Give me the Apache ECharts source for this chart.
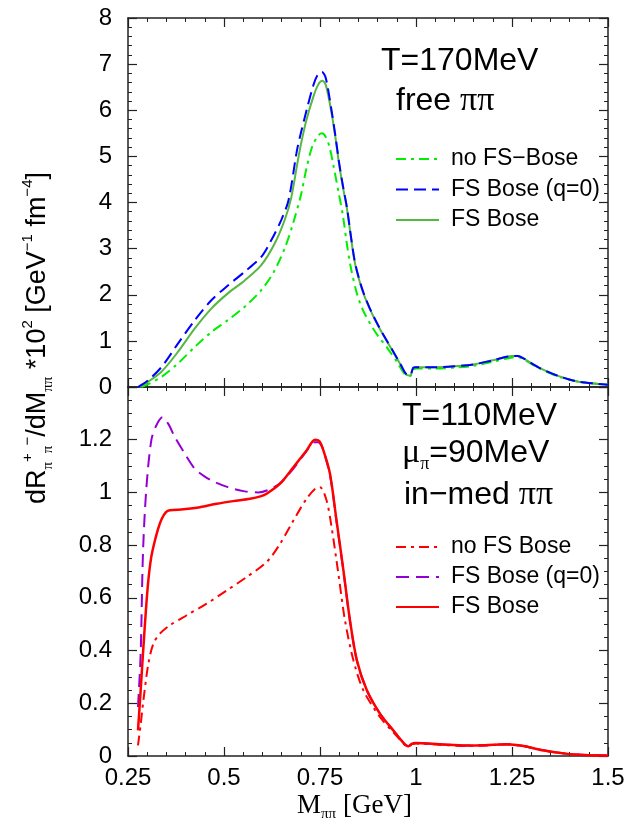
<!DOCTYPE html>
<html><head><meta charset="utf-8">
<script src="https://cdn.jsdelivr.net/npm/echarts@6/dist/echarts.min.js"></script>
<style>html,body{margin:0;padding:0;background:#fff}#c{width:642px;height:827px}</style>
</head><body><div id="c"></div>
<script>
// ---------- DATA ----------
// Top panel: T=170MeV, free pi-pi   [M (GeV), rate]
const freeNoFS = [[0.285,0],[0.30,0.05],[0.337,0.22],[0.38,0.51],[0.424,0.87],[0.467,1.19],[0.51,1.45],[0.554,1.74],[0.597,2.1],[0.63,2.5],[0.66,3.05],[0.68,3.55],[0.70,4.15],[0.715,4.75],[0.73,5.22],[0.745,5.45],[0.755,5.5],[0.765,5.42],[0.775,5.2],[0.785,4.8],[0.80,4.15],[0.81,3.7],[0.82,3.1],[0.83,2.6],[0.846,2.03],[0.86,1.7],[0.88,1.38],[0.90,1.12],[0.925,0.85],[0.95,0.55],[0.975,0.25],[0.985,0.24],[0.993,0.38],[1.0,0.40],[1.05,0.40],[1.10,0.42],[1.15,0.46],[1.20,0.55],[1.25,0.64],[1.265,0.65],[1.28,0.6],[1.32,0.41],[1.37,0.23],[1.42,0.12],[1.47,0.07],[1.5,0.05]];
const freeBoseQ0 = [[0.276,0],[0.30,0.13],[0.337,0.43],[0.38,0.94],[0.424,1.45],[0.467,1.88],[0.51,2.2],[0.554,2.5],[0.597,2.82],[0.623,3.18],[0.649,3.62],[0.668,4.05],[0.69,5.13],[0.70,5.5],[0.715,6.0],[0.733,6.55],[0.745,6.78],[0.755,6.83],[0.765,6.7],[0.78,6.0],[0.79,5.45],[0.80,4.85],[0.81,4.35],[0.82,3.9],[0.83,3.3],[0.84,2.75],[0.85,2.4],[0.863,2.05],[0.88,1.7],[0.90,1.36],[0.92,1.06],[0.94,0.78],[0.96,0.49],[0.976,0.27],[0.985,0.26],[0.993,0.42],[1.0,0.43],[1.05,0.43],[1.10,0.45],[1.15,0.49],[1.20,0.58],[1.25,0.67],[1.265,0.67],[1.28,0.62],[1.32,0.42],[1.37,0.24],[1.42,0.12],[1.47,0.07],[1.5,0.05]];
const freeBose = [[0.28,0],[0.30,0.1],[0.337,0.33],[0.38,0.76],[0.424,1.27],[0.467,1.7],[0.51,2.03],[0.554,2.31],[0.597,2.64],[0.632,3.11],[0.658,3.62],[0.675,4.1],[0.69,4.8],[0.70,5.25],[0.715,5.8],[0.733,6.3],[0.745,6.55],[0.756,6.64],[0.765,6.55],[0.78,5.95],[0.79,5.42],[0.80,4.82],[0.81,4.32],[0.82,3.88],[0.83,3.28],[0.84,2.73],[0.85,2.38],[0.863,2.03],[0.88,1.69],[0.90,1.35],[0.92,1.05],[0.94,0.77],[0.96,0.48],[0.976,0.26],[0.985,0.25],[0.993,0.42],[1.0,0.43],[1.05,0.43],[1.10,0.45],[1.15,0.49],[1.20,0.58],[1.25,0.67],[1.265,0.67],[1.28,0.62],[1.32,0.42],[1.37,0.24],[1.42,0.12],[1.47,0.07],[1.5,0.05]];
// Bottom panel: T=110MeV, mu_pi=90MeV, in-medium pi-pi
const medNoFS = [[0.276,0.04],[0.283,0.12],[0.29,0.21],[0.303,0.35],[0.316,0.426],[0.333,0.464],[0.359,0.496],[0.403,0.534],[0.455,0.578],[0.507,0.628],[0.559,0.679],[0.611,0.736],[0.646,0.805],[0.681,0.894],[0.715,0.976],[0.741,1.018],[0.75,1.02],[0.767,0.97],[0.78,0.87],[0.798,0.69],[0.815,0.515],[0.837,0.363],[0.863,0.249],[0.906,0.148],[0.941,0.09],[0.971,0.042],[0.98,0.035],[0.99,0.045],[1.0,0.047],[1.06,0.043],[1.13,0.038],[1.18,0.04],[1.236,0.044],[1.28,0.037],[1.33,0.021],[1.39,0.009],[1.44,0.004],[1.5,0.002]];
const medBoseQ0 = [[0.276,0.186],[0.283,0.39],[0.289,0.77],[0.298,1.02],[0.311,1.2],[0.324,1.255],[0.34,1.285],[0.355,1.26],[0.372,1.21],[0.398,1.147],[0.424,1.09],[0.45,1.06],[0.475,1.04],[0.51,1.02],[0.554,1.004],[0.59,1.0],[0.623,1.014],[0.649,1.039],[0.684,1.096],[0.71,1.147],[0.736,1.19],[0.745,1.19],[0.755,1.175],[0.776,1.065],[0.793,0.89],[0.811,0.702],[0.828,0.513],[0.846,0.362],[0.872,0.249],[0.906,0.161],[0.941,0.097],[0.971,0.044],[0.98,0.037],[0.99,0.047],[1.0,0.049],[1.06,0.045],[1.13,0.04],[1.18,0.041],[1.236,0.045],[1.28,0.038],[1.33,0.022],[1.39,0.009],[1.44,0.004],[1.5,0.002]];
const medBose = [[0.276,0.097],[0.283,0.25],[0.29,0.41],[0.297,0.56],[0.303,0.667],[0.31,0.75],[0.318,0.805],[0.328,0.86],[0.338,0.9],[0.349,0.925],[0.359,0.932],[0.394,0.936],[0.4375,0.944],[0.481,0.957],[0.524,0.967],[0.568,0.976],[0.595,0.985],[0.611,0.995],[0.646,1.033],[0.681,1.096],[0.715,1.159],[0.737,1.2],[0.748,1.195],[0.759,1.159],[0.776,1.071],[0.793,0.894],[0.811,0.704],[0.828,0.515],[0.846,0.363],[0.872,0.249],[0.906,0.161],[0.941,0.097],[0.971,0.044],[0.98,0.037],[0.99,0.047],[1.0,0.049],[1.06,0.045],[1.13,0.04],[1.18,0.041],[1.236,0.045],[1.28,0.038],[1.33,0.022],[1.39,0.009],[1.44,0.004],[1.5,0.002]];

const topNames = ['no FS\u2212Bose', 'FS Bose (q=0)', 'FS Bose'];
const botNames = ['no FS Bose', 'FS Bose (q=0) ', 'FS Bose '];

// ---------- CHART ----------
const SANS = 'Liberation Sans, Arial, Helvetica, sans-serif';
const SERIF = 'Liberation Serif, Times New Roman, serif';
const AX = '#222';
const chart = echarts.init(document.getElementById('c'), null, {renderer: 'canvas'});

function xAx(gridIndex, position, showLabel) {
  return {type: 'value', gridIndex, position, min: 0.25, max: 1.5, interval: 0.25,
    axisLine: {show: true, onZero: false, lineStyle: {color: AX, width: 1.5}},
    axisTick: {show: true, inside: true, length: 9, lineStyle: {color: AX, width: 1.2}},
    minorTick: {show: true, splitNumber: 5, length: 4, lineStyle: {color: AX, width: 1}},
    axisLabel: {show: showLabel, fontFamily: SANS, fontSize: 24, color: '#000', margin: 10},
    splitLine: {show: false}};
}
function yAx(gridIndex, position, showLabel, max, interval, minor, fmt) {
  return {type: 'value', gridIndex, position, min: 0, max, interval,
    axisLine: {show: true, onZero: false, lineStyle: {color: AX, width: 1.5}},
    axisTick: {show: true, inside: true, length: 9, lineStyle: {color: AX, width: 1.2}},
    minorTick: {show: true, splitNumber: minor, length: 4, lineStyle: {color: AX, width: 1}},
    axisLabel: {show: showLabel, fontFamily: SANS, fontSize: 24, color: '#000', margin: 16, formatter: fmt},
    splitLine: {show: false}};
}
const botFmt = v => (v > 1.3 ? '' : String(+v.toFixed(2)));

function line(name, data, xi, yi, color, type, width, z) {
  return {name, type: 'line', data, xAxisIndex: xi, yAxisIndex: yi, symbol: 'none', showSymbol: false,
    legendIcon: 'none', smooth: 0.3, z: z || 2, lineStyle: {color, type, width}, itemStyle: {color}, animation: false};
}
const legendCommon = {orient: 'vertical', left: 390, itemWidth: 43, itemHeight: 14, selectedMode: false,
  itemStyle: {opacity: 0, borderWidth: 0},
  textStyle: {fontFamily: SANS, fontSize: 23, color: '#000', lineHeight: 24, padding: [0, 0, 0, 7]}};

const annSans = {fontFamily: SANS, fontSize: 32, fill: '#000'};
const option = {
  animation: false,
  backgroundColor: '#fff',
  grid: [
    {left: 128, top: 18, width: 480, height: 369, containLabel: false},
    {left: 128, top: 387, width: 480, height: 369, containLabel: false}
  ],
  xAxis: [xAx(0, 'bottom', false), xAx(0, 'top', false), xAx(1, 'bottom', true), xAx(1, 'top', false)],
  yAxis: [
    yAx(0, 'left', true, 8, 1, 5), yAx(0, 'right', false, 8, 1, 5),
    yAx(1, 'left', true, 1.4, 0.2, 4, botFmt), yAx(1, 'right', false, 1.4, 0.2, 4, botFmt)
  ],
  legend: [
    Object.assign({data: topNames, top: 142, itemGap: 6.5}, legendCommon),
    Object.assign({data: botNames, top: 530, itemGap: 6}, legendCommon)
  ],
  series: [
    line(topNames[0], freeNoFS, 0, 0, '#00ee00', [10, 5, 3, 5], 2),
    line(topNames[2], freeBose, 0, 0, '#55b840', 'solid', 2, 3),
    line(topNames[1], freeBoseQ0, 0, 0, '#0000ff', [12, 6], 2, 4),
    line(botNames[0], medNoFS, 2, 2, '#ff0000', [10, 5, 3, 5], 2),
    line(botNames[1], medBoseQ0, 2, 2, '#9400d3', [13, 7], 2),
    line(botNames[2], medBose, 2, 2, '#ff0000', 'solid', 2.5, 4)
  ],
  graphic: [
    {type: 'text', x: 381, y: 61.5, style: Object.assign({text: 'T=170MeV', align: 'left', verticalAlign: 'middle'}, annSans)},
    {type: 'text', x: 396, y: 101.5, style: {text: '{a|free }{b|\u03c0\u03c0}', align: 'left', verticalAlign: 'middle',
      rich: {a: {fontFamily: SANS, fontSize: 32, color: '#000'}, b: {fontFamily: SERIF, fontSize: 34, color: '#000'}}}},
    {type: 'text', x: 402, y: 416.5, style: Object.assign({text: 'T=110MeV', align: 'left', verticalAlign: 'middle'}, annSans)},
    {type: 'text', x: 402, y: 453, style: {text: '{m|\u03bc}{s|\u03c0}{a|=90MeV}', align: 'left', verticalAlign: 'middle',
      rich: {m: {fontFamily: SERIF, fontSize: 34, color: '#000', lineHeight: 40},
             s: {fontFamily: SERIF, fontSize: 18, color: '#000', lineHeight: 18, verticalAlign: 'bottom'},
             a: {fontFamily: SANS, fontSize: 32, color: '#000', lineHeight: 40}}}},
    {type: 'text', x: 404, y: 495.5, style: {text: '{a|in\u2212med }{b|\u03c0\u03c0}', align: 'left', verticalAlign: 'middle',
      rich: {a: {fontFamily: SANS, fontSize: 32, color: '#000'}, b: {fontFamily: SERIF, fontSize: 34, color: '#000'}}}},
    // y-axis title
    {type: 'text', x: 38, y: 338, rotation: Math.PI / 2, style: {
      text: '{n|dR}{sb|\u03c0}{sp|+}{sb|\u03c0}{sp|\u2212}{n|/dM}{sb|\u03c0\u03c0}{n| *10}{sp|2}{n| [GeV}{sp|\u22121}{n| fm}{sp|\u22124}{n|]}',
      align: 'center', verticalAlign: 'middle',
      rich: {n: {fontFamily: SANS, fontSize: 27, color: '#000', lineHeight: 36},
             sp: {fontFamily: SANS, fontSize: 15, color: '#000', lineHeight: 18, verticalAlign: 'top'},
             sb: {fontFamily: SERIF, fontSize: 15, color: '#000', lineHeight: 18, verticalAlign: 'bottom'}}}},
    // x-axis title
    {type: 'text', x: 297, y: 806, style: {text: '{m|M}{s|\u03c0\u03c0}{g| [GeV]}', align: 'left', verticalAlign: 'middle',
      rich: {m: {fontFamily: SERIF, fontSize: 27, color: '#000', lineHeight: 32},
             s: {fontFamily: SERIF, fontSize: 15, color: '#000', lineHeight: 16, verticalAlign: 'bottom'},
             g: {fontFamily: SERIF, fontSize: 27, color: '#000', lineHeight: 32}}}}
  ]
};
chart.setOption(option);
</script></body></html>
